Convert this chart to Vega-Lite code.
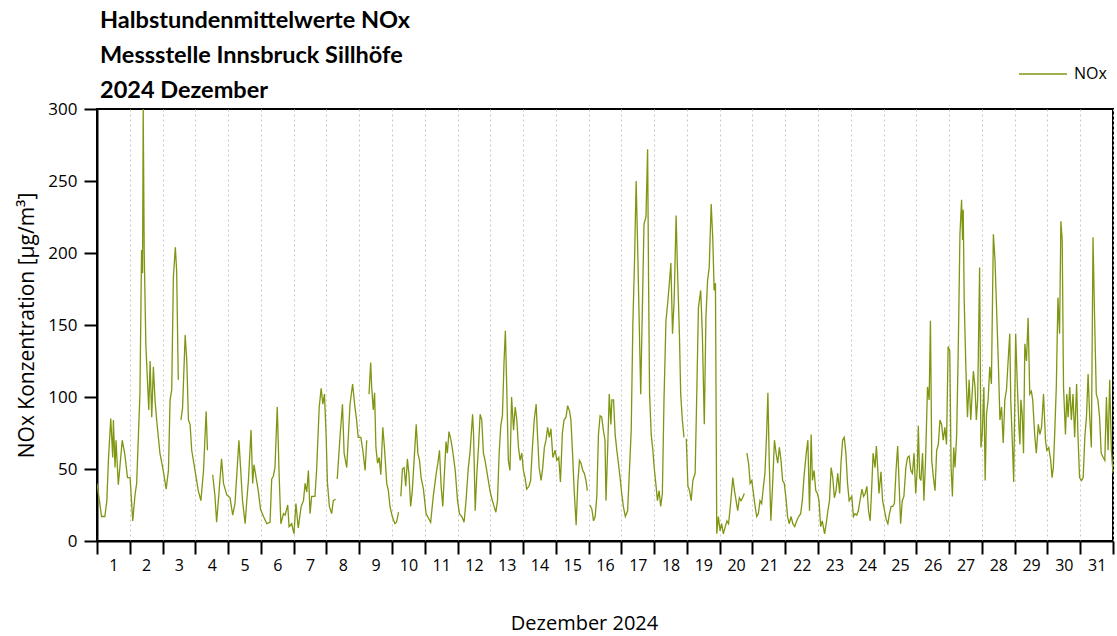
{
  "$schema": "https://vega.github.io/schema/vega-lite/v6.json",
  "autosize": "none",
  "width": 1016,
  "height": 432,
  "padding": {"left": 97, "top": 109, "right": 4, "bottom": 95},
  "background": "white",
  "title": {
    "text": ["Halbstundenmittelwerte NOx", "Messstelle Innsbruck Sillhöfe", "2024 Dezember"],
    "anchor": "start",
    "frame": "group",
    "font": "Lato",
    "fontSize": 23.5,
    "fontWeight": "bold",
    "color": "black",
    "lineHeight": 35,
    "offset": 10,
    "dx": 3,
    "dy": 63
  },
  "config": {
    "view": {"stroke": "black", "strokeWidth": 2},
    "axis": {
      "domainColor": "black",
      "domainWidth": 2,
      "tickColor": "black",
      "tickWidth": 2,
      "tickSize": 13,
      "labelColor": "black",
      "labelFont": "Open Sans",
      "titleFont": "Open Sans",
      "titleColor": "black",
      "titleFontWeight": "normal"
    }
  },
  "data": {
    "values": [
      {"Tag":1.00,"NOx":40},{"Tag":1.14,"NOx":17},{"Tag":1.24,"NOx":17},{"Tag":1.30,"NOx":28},{"Tag":1.35,"NOx":57},{"Tag":1.42,"NOx":85},{"Tag":1.48,"NOx":58},{"Tag":1.50,"NOx":84},{"Tag":1.55,"NOx":51},{"Tag":1.58,"NOx":70},{"Tag":1.65,"NOx":39},{"Tag":1.77,"NOx":70},{"Tag":1.85,"NOx":60},{"Tag":1.93,"NOx":44},
      {"Tag":2.01,"NOx":44},{"Tag":2.09,"NOx":14},{"Tag":2.16,"NOx":32},{"Tag":2.21,"NOx":40},{"Tag":2.31,"NOx":102},{"Tag":2.36,"NOx":202},{"Tag":2.39,"NOx":186},{"Tag":2.41,"NOx":300},{"Tag":2.44,"NOx":202},{"Tag":2.49,"NOx":137},{"Tag":2.52,"NOx":121},{"Tag":2.58,"NOx":91},{"Tag":2.62,"NOx":125},{"Tag":2.67,"NOx":86},{"Tag":2.72,"NOx":121},{"Tag":2.77,"NOx":98},{"Tag":2.82,"NOx":84},{"Tag":2.92,"NOx":61},
      {"Tag":3.02,"NOx":49},{"Tag":3.11,"NOx":36},{"Tag":3.18,"NOx":49},{"Tag":3.23,"NOx":98},{"Tag":3.28,"NOx":105},{"Tag":3.33,"NOx":183},{"Tag":3.39,"NOx":204},{"Tag":3.43,"NOx":188},{"Tag":3.48,"NOx":112},{"Tag":3.52,"NOx":null},{"Tag":3.56,"NOx":84},{"Tag":3.61,"NOx":92},{"Tag":3.69,"NOx":143},{"Tag":3.74,"NOx":125},{"Tag":3.79,"NOx":84},{"Tag":3.84,"NOx":81},{"Tag":3.89,"NOx":63},{"Tag":3.99,"NOx":49},
      {"Tag":4.09,"NOx":35},{"Tag":4.17,"NOx":28},{"Tag":4.25,"NOx":49},{"Tag":4.33,"NOx":90},{"Tag":4.37,"NOx":63},{"Tag":4.45,"NOx":null},{"Tag":4.53,"NOx":46},{"Tag":4.60,"NOx":31},{"Tag":4.65,"NOx":13},{"Tag":4.72,"NOx":33},{"Tag":4.80,"NOx":57},{"Tag":4.86,"NOx":40},{"Tag":4.96,"NOx":32},
      {"Tag":5.06,"NOx":30},{"Tag":5.14,"NOx":18},{"Tag":5.21,"NOx":26},{"Tag":5.26,"NOx":44},{"Tag":5.33,"NOx":70},{"Tag":5.38,"NOx":51},{"Tag":5.44,"NOx":28},{"Tag":5.52,"NOx":12},{"Tag":5.57,"NOx":28},{"Tag":5.62,"NOx":42},{"Tag":5.70,"NOx":77},{"Tag":5.75,"NOx":40},{"Tag":5.79,"NOx":53},{"Tag":5.87,"NOx":42},{"Tag":5.92,"NOx":35},{"Tag":5.99,"NOx":22},
      {"Tag":6.08,"NOx":17},{"Tag":6.18,"NOx":12},{"Tag":6.28,"NOx":13},{"Tag":6.33,"NOx":43},{"Tag":6.38,"NOx":45},{"Tag":6.43,"NOx":51},{"Tag":6.50,"NOx":93},{"Tag":6.56,"NOx":44},{"Tag":6.61,"NOx":12},{"Tag":6.69,"NOx":19},{"Tag":6.74,"NOx":18},{"Tag":6.82,"NOx":25},{"Tag":6.86,"NOx":10},{"Tag":6.94,"NOx":12},
      {"Tag":7.01,"NOx":5},{"Tag":7.07,"NOx":26},{"Tag":7.14,"NOx":9},{"Tag":7.23,"NOx":24},{"Tag":7.30,"NOx":28},{"Tag":7.35,"NOx":40},{"Tag":7.40,"NOx":34},{"Tag":7.45,"NOx":49},{"Tag":7.50,"NOx":19},{"Tag":7.55,"NOx":31},{"Tag":7.65,"NOx":31},{"Tag":7.70,"NOx":49},{"Tag":7.78,"NOx":93},{"Tag":7.84,"NOx":106},{"Tag":7.89,"NOx":95},{"Tag":7.94,"NOx":102},{"Tag":7.99,"NOx":74},
      {"Tag":8.03,"NOx":41},{"Tag":8.09,"NOx":24},{"Tag":8.16,"NOx":19},{"Tag":8.21,"NOx":28},{"Tag":8.28,"NOx":29},{"Tag":8.30,"NOx":null},{"Tag":8.33,"NOx":43},{"Tag":8.42,"NOx":74},{"Tag":8.49,"NOx":95},{"Tag":8.54,"NOx":61},{"Tag":8.62,"NOx":51},{"Tag":8.72,"NOx":95},{"Tag":8.80,"NOx":109},{"Tag":8.87,"NOx":93},{"Tag":8.92,"NOx":84},{"Tag":8.97,"NOx":72},
      {"Tag":9.05,"NOx":72},{"Tag":9.11,"NOx":63},{"Tag":9.18,"NOx":49},{"Tag":9.23,"NOx":70},{"Tag":9.26,"NOx":null},{"Tag":9.30,"NOx":102},{"Tag":9.35,"NOx":124},{"Tag":9.38,"NOx":107},{"Tag":9.43,"NOx":91},{"Tag":9.47,"NOx":103},{"Tag":9.51,"NOx":65},{"Tag":9.56,"NOx":54},{"Tag":9.61,"NOx":58},{"Tag":9.66,"NOx":46},{"Tag":9.72,"NOx":79},{"Tag":9.77,"NOx":65},{"Tag":9.84,"NOx":40},{"Tag":9.89,"NOx":35},{"Tag":9.94,"NOx":24},
      {"Tag":10.01,"NOx":17},{"Tag":10.09,"NOx":12},{"Tag":10.14,"NOx":13},{"Tag":10.20,"NOx":20},{"Tag":10.23,"NOx":null},{"Tag":10.27,"NOx":31},{"Tag":10.32,"NOx":50},{"Tag":10.37,"NOx":51},{"Tag":10.42,"NOx":38},{"Tag":10.47,"NOx":57},{"Tag":10.52,"NOx":46},{"Tag":10.57,"NOx":24},{"Tag":10.62,"NOx":35},{"Tag":10.67,"NOx":54},{"Tag":10.74,"NOx":81},{"Tag":10.79,"NOx":61},{"Tag":10.84,"NOx":56},{"Tag":10.89,"NOx":44},{"Tag":10.96,"NOx":36},
      {"Tag":11.04,"NOx":19},{"Tag":11.11,"NOx":16},{"Tag":11.18,"NOx":13},{"Tag":11.26,"NOx":31},{"Tag":11.35,"NOx":47},{"Tag":11.40,"NOx":54},{"Tag":11.45,"NOx":63},{"Tag":11.50,"NOx":38},{"Tag":11.55,"NOx":24},{"Tag":11.60,"NOx":47},{"Tag":11.65,"NOx":69},{"Tag":11.69,"NOx":61},{"Tag":11.74,"NOx":76},{"Tag":11.80,"NOx":70},{"Tag":11.85,"NOx":63},{"Tag":11.93,"NOx":49},
      {"Tag":12.00,"NOx":28},{"Tag":12.06,"NOx":19},{"Tag":12.13,"NOx":17},{"Tag":12.20,"NOx":13},{"Tag":12.26,"NOx":28},{"Tag":12.33,"NOx":51},{"Tag":12.38,"NOx":61},{"Tag":12.46,"NOx":88},{"Tag":12.49,"NOx":74},{"Tag":12.54,"NOx":21},{"Tag":12.59,"NOx":47},{"Tag":12.64,"NOx":65},{"Tag":12.69,"NOx":88},{"Tag":12.74,"NOx":84},{"Tag":12.79,"NOx":61},{"Tag":12.84,"NOx":56},{"Tag":12.89,"NOx":49},{"Tag":12.94,"NOx":42},{"Tag":12.99,"NOx":35},
      {"Tag":13.04,"NOx":30},{"Tag":13.09,"NOx":26},{"Tag":13.17,"NOx":20},{"Tag":13.22,"NOx":28},{"Tag":13.27,"NOx":61},{"Tag":13.32,"NOx":80},{"Tag":13.37,"NOx":87},{"Tag":13.42,"NOx":125},{"Tag":13.46,"NOx":146},{"Tag":13.50,"NOx":109},{"Tag":13.55,"NOx":56},{"Tag":13.60,"NOx":49},{"Tag":13.65,"NOx":100},{"Tag":13.71,"NOx":77},{"Tag":13.76,"NOx":93},{"Tag":13.81,"NOx":84},{"Tag":13.86,"NOx":65},{"Tag":13.91,"NOx":56},{"Tag":13.96,"NOx":61},
      {"Tag":14.01,"NOx":49},{"Tag":14.06,"NOx":44},{"Tag":14.11,"NOx":36},{"Tag":14.18,"NOx":38},{"Tag":14.23,"NOx":42},{"Tag":14.28,"NOx":63},{"Tag":14.34,"NOx":84},{"Tag":14.40,"NOx":95},{"Tag":14.44,"NOx":74},{"Tag":14.49,"NOx":51},{"Tag":14.55,"NOx":42},{"Tag":14.60,"NOx":51},{"Tag":14.65,"NOx":65},{"Tag":14.70,"NOx":70},{"Tag":14.75,"NOx":79},{"Tag":14.80,"NOx":72},{"Tag":14.85,"NOx":78},{"Tag":14.91,"NOx":58},{"Tag":14.98,"NOx":63},
      {"Tag":15.03,"NOx":56},{"Tag":15.09,"NOx":58},{"Tag":15.14,"NOx":41},{"Tag":15.20,"NOx":75},{"Tag":15.25,"NOx":84},{"Tag":15.31,"NOx":86},{"Tag":15.36,"NOx":94},{"Tag":15.42,"NOx":90},{"Tag":15.46,"NOx":84},{"Tag":15.51,"NOx":61},{"Tag":15.56,"NOx":35},{"Tag":15.62,"NOx":11},{"Tag":15.67,"NOx":40},{"Tag":15.72,"NOx":56},{"Tag":15.77,"NOx":54},{"Tag":15.82,"NOx":49},{"Tag":15.87,"NOx":47},{"Tag":15.92,"NOx":42},{"Tag":15.96,"NOx":35},{"Tag":16.00,"NOx":null},
      {"Tag":16.04,"NOx":25},{"Tag":16.10,"NOx":22},{"Tag":16.15,"NOx":14},{"Tag":16.20,"NOx":17},{"Tag":16.25,"NOx":31},{"Tag":16.30,"NOx":74},{"Tag":16.35,"NOx":87},{"Tag":16.40,"NOx":86},{"Tag":16.45,"NOx":77},{"Tag":16.50,"NOx":70},{"Tag":16.53,"NOx":28},{"Tag":16.58,"NOx":63},{"Tag":16.63,"NOx":102},{"Tag":16.68,"NOx":81},{"Tag":16.71,"NOx":98},{"Tag":16.76,"NOx":98},{"Tag":16.81,"NOx":74},{"Tag":16.86,"NOx":63},{"Tag":16.91,"NOx":54},{"Tag":16.96,"NOx":44},
      {"Tag":17.01,"NOx":33},{"Tag":17.06,"NOx":24},{"Tag":17.12,"NOx":17},{"Tag":17.19,"NOx":21},{"Tag":17.25,"NOx":51},{"Tag":17.30,"NOx":77},{"Tag":17.35,"NOx":151},{"Tag":17.40,"NOx":193},{"Tag":17.45,"NOx":250},{"Tag":17.49,"NOx":211},{"Tag":17.54,"NOx":156},{"Tag":17.59,"NOx":102},{"Tag":17.64,"NOx":162},{"Tag":17.69,"NOx":220},{"Tag":17.75,"NOx":225},{"Tag":17.80,"NOx":272},{"Tag":17.83,"NOx":179},{"Tag":17.86,"NOx":102},{"Tag":17.91,"NOx":74},{"Tag":17.96,"NOx":63},
      {"Tag":18.00,"NOx":51},{"Tag":18.05,"NOx":40},{"Tag":18.10,"NOx":28},{"Tag":18.15,"NOx":35},{"Tag":18.20,"NOx":24},{"Tag":18.25,"NOx":33},{"Tag":18.30,"NOx":98},{"Tag":18.36,"NOx":153},{"Tag":18.42,"NOx":167},{"Tag":18.47,"NOx":181},{"Tag":18.51,"NOx":193},{"Tag":18.56,"NOx":144},{"Tag":18.61,"NOx":167},{"Tag":18.67,"NOx":226},{"Tag":18.71,"NOx":190},{"Tag":18.77,"NOx":144},{"Tag":18.81,"NOx":102},{"Tag":18.86,"NOx":84},{"Tag":18.91,"NOx":72},{"Tag":18.94,"NOx":null},{"Tag":18.98,"NOx":71},
      {"Tag":19.03,"NOx":38},{"Tag":19.08,"NOx":35},{"Tag":19.13,"NOx":28},{"Tag":19.18,"NOx":42},{"Tag":19.25,"NOx":47},{"Tag":19.30,"NOx":102},{"Tag":19.35,"NOx":162},{"Tag":19.42,"NOx":174},{"Tag":19.47,"NOx":144},{"Tag":19.53,"NOx":81},{"Tag":19.58,"NOx":156},{"Tag":19.63,"NOx":181},{"Tag":19.68,"NOx":190},{"Tag":19.74,"NOx":234},{"Tag":19.79,"NOx":209},{"Tag":19.83,"NOx":174},{"Tag":19.87,"NOx":179},{"Tag":19.91,"NOx":5},{"Tag":19.96,"NOx":17},
      {"Tag":20.01,"NOx":7},{"Tag":20.06,"NOx":12},{"Tag":20.11,"NOx":5},{"Tag":20.17,"NOx":10},{"Tag":20.22,"NOx":14},{"Tag":20.27,"NOx":12},{"Tag":20.32,"NOx":23},{"Tag":20.40,"NOx":44},{"Tag":20.45,"NOx":35},{"Tag":20.50,"NOx":28},{"Tag":20.55,"NOx":21},{"Tag":20.60,"NOx":30},{"Tag":20.65,"NOx":28},{"Tag":20.70,"NOx":30},{"Tag":20.75,"NOx":33},{"Tag":20.79,"NOx":null},{"Tag":20.83,"NOx":61},{"Tag":20.88,"NOx":54},{"Tag":20.93,"NOx":40},{"Tag":20.98,"NOx":42},
      {"Tag":21.03,"NOx":33},{"Tag":21.08,"NOx":24},{"Tag":21.13,"NOx":17},{"Tag":21.18,"NOx":19},{"Tag":21.23,"NOx":28},{"Tag":21.28,"NOx":26},{"Tag":21.33,"NOx":37},{"Tag":21.38,"NOx":47},{"Tag":21.43,"NOx":74},{"Tag":21.47,"NOx":103},{"Tag":21.51,"NOx":56},{"Tag":21.56,"NOx":14},{"Tag":21.61,"NOx":37},{"Tag":21.67,"NOx":70},{"Tag":21.72,"NOx":61},{"Tag":21.77,"NOx":54},{"Tag":21.82,"NOx":65},{"Tag":21.87,"NOx":56},{"Tag":21.92,"NOx":42},{"Tag":21.97,"NOx":40},
      {"Tag":22.03,"NOx":28},{"Tag":22.07,"NOx":17},{"Tag":22.12,"NOx":12},{"Tag":22.18,"NOx":17},{"Tag":22.23,"NOx":12},{"Tag":22.29,"NOx":10},{"Tag":22.35,"NOx":14},{"Tag":22.41,"NOx":17},{"Tag":22.47,"NOx":19},{"Tag":22.52,"NOx":28},{"Tag":22.57,"NOx":44},{"Tag":22.64,"NOx":61},{"Tag":22.69,"NOx":70},{"Tag":22.74,"NOx":21},{"Tag":22.79,"NOx":74},{"Tag":22.83,"NOx":42},{"Tag":22.88,"NOx":49},{"Tag":22.93,"NOx":35},{"Tag":22.98,"NOx":33},
      {"Tag":23.03,"NOx":28},{"Tag":23.08,"NOx":10},{"Tag":23.13,"NOx":14},{"Tag":23.20,"NOx":5},{"Tag":23.25,"NOx":12},{"Tag":23.30,"NOx":21},{"Tag":23.35,"NOx":28},{"Tag":23.40,"NOx":51},{"Tag":23.45,"NOx":44},{"Tag":23.50,"NOx":30},{"Tag":23.55,"NOx":35},{"Tag":23.60,"NOx":47},{"Tag":23.66,"NOx":33},{"Tag":23.70,"NOx":54},{"Tag":23.75,"NOx":70},{"Tag":23.80,"NOx":72},{"Tag":23.85,"NOx":61},{"Tag":23.90,"NOx":40},{"Tag":23.95,"NOx":28},
      {"Tag":24.03,"NOx":31},{"Tag":24.08,"NOx":17},{"Tag":24.13,"NOx":19},{"Tag":24.18,"NOx":18},{"Tag":24.23,"NOx":21},{"Tag":24.28,"NOx":28},{"Tag":24.34,"NOx":36},{"Tag":24.39,"NOx":31},{"Tag":24.44,"NOx":33},{"Tag":24.49,"NOx":38},{"Tag":24.54,"NOx":21},{"Tag":24.59,"NOx":14},{"Tag":24.64,"NOx":38},{"Tag":24.68,"NOx":61},{"Tag":24.74,"NOx":51},{"Tag":24.78,"NOx":66},{"Tag":24.82,"NOx":51},{"Tag":24.86,"NOx":33},{"Tag":24.92,"NOx":48},{"Tag":24.97,"NOx":28},
      {"Tag":25.03,"NOx":21},{"Tag":25.08,"NOx":15},{"Tag":25.13,"NOx":12},{"Tag":25.18,"NOx":19},{"Tag":25.23,"NOx":24},{"Tag":25.28,"NOx":24},{"Tag":25.33,"NOx":26},{"Tag":25.38,"NOx":49},{"Tag":25.43,"NOx":66},{"Tag":25.47,"NOx":42},{"Tag":25.52,"NOx":12},{"Tag":25.57,"NOx":28},{"Tag":25.62,"NOx":31},{"Tag":25.68,"NOx":51},{"Tag":25.73,"NOx":58},{"Tag":25.78,"NOx":59},{"Tag":25.83,"NOx":49},{"Tag":25.88,"NOx":47},{"Tag":25.93,"NOx":61},{"Tag":25.98,"NOx":33},
      {"Tag":26.03,"NOx":51},{"Tag":26.06,"NOx":80},{"Tag":26.10,"NOx":44},{"Tag":26.14,"NOx":42},{"Tag":26.19,"NOx":61},{"Tag":26.23,"NOx":28},{"Tag":26.28,"NOx":56},{"Tag":26.34,"NOx":107},{"Tag":26.39,"NOx":98},{"Tag":26.43,"NOx":153},{"Tag":26.47,"NOx":56},{"Tag":26.52,"NOx":44},{"Tag":26.57,"NOx":35},{"Tag":26.62,"NOx":63},{"Tag":26.67,"NOx":67},{"Tag":26.72,"NOx":84},{"Tag":26.77,"NOx":81},{"Tag":26.82,"NOx":70},{"Tag":26.87,"NOx":79},{"Tag":26.92,"NOx":67},{"Tag":26.97,"NOx":135},
      {"Tag":27.02,"NOx":132},{"Tag":27.06,"NOx":51},{"Tag":27.10,"NOx":31},{"Tag":27.14,"NOx":65},{"Tag":27.18,"NOx":51},{"Tag":27.23,"NOx":74},{"Tag":27.28,"NOx":135},{"Tag":27.33,"NOx":213},{"Tag":27.38,"NOx":237},{"Tag":27.41,"NOx":209},{"Tag":27.43,"NOx":230},{"Tag":27.46,"NOx":167},{"Tag":27.51,"NOx":121},{"Tag":27.56,"NOx":86},{"Tag":27.61,"NOx":112},{"Tag":27.66,"NOx":84},{"Tag":27.74,"NOx":118},{"Tag":27.79,"NOx":107},{"Tag":27.83,"NOx":84},{"Tag":27.87,"NOx":98},{"Tag":27.93,"NOx":190},{"Tag":27.97,"NOx":65},
      {"Tag":28.01,"NOx":74},{"Tag":28.06,"NOx":107},{"Tag":28.10,"NOx":42},{"Tag":28.14,"NOx":88},{"Tag":28.19,"NOx":98},{"Tag":28.24,"NOx":121},{"Tag":28.29,"NOx":109},{"Tag":28.35,"NOx":213},{"Tag":28.40,"NOx":195},{"Tag":28.46,"NOx":153},{"Tag":28.50,"NOx":125},{"Tag":28.55,"NOx":84},{"Tag":28.60,"NOx":93},{"Tag":28.65,"NOx":68},{"Tag":28.70,"NOx":98},{"Tag":28.75,"NOx":105},{"Tag":28.80,"NOx":125},{"Tag":28.85,"NOx":144},{"Tag":28.88,"NOx":98},{"Tag":28.92,"NOx":74},{"Tag":28.97,"NOx":41},
      {"Tag":29.03,"NOx":144},{"Tag":29.08,"NOx":109},{"Tag":29.13,"NOx":79},{"Tag":29.16,"NOx":67},{"Tag":29.19,"NOx":98},{"Tag":29.23,"NOx":88},{"Tag":29.27,"NOx":61},{"Tag":29.31,"NOx":137},{"Tag":29.36,"NOx":125},{"Tag":29.41,"NOx":155},{"Tag":29.46,"NOx":102},{"Tag":29.51,"NOx":104},{"Tag":29.55,"NOx":98},{"Tag":29.61,"NOx":74},{"Tag":29.66,"NOx":61},{"Tag":29.72,"NOx":81},{"Tag":29.77,"NOx":74},{"Tag":29.82,"NOx":79},{"Tag":29.88,"NOx":102},{"Tag":29.94,"NOx":70},{"Tag":29.98,"NOx":63},
      {"Tag":30.04,"NOx":65},{"Tag":30.10,"NOx":56},{"Tag":30.14,"NOx":44},{"Tag":30.18,"NOx":51},{"Tag":30.22,"NOx":74},{"Tag":30.27,"NOx":107},{"Tag":30.32,"NOx":169},{"Tag":30.37,"NOx":144},{"Tag":30.41,"NOx":222},{"Tag":30.45,"NOx":209},{"Tag":30.49,"NOx":107},{"Tag":30.55,"NOx":74},{"Tag":30.59,"NOx":102},{"Tag":30.63,"NOx":86},{"Tag":30.68,"NOx":107},{"Tag":30.73,"NOx":84},{"Tag":30.78,"NOx":102},{"Tag":30.83,"NOx":72},{"Tag":30.89,"NOx":109},{"Tag":30.93,"NOx":74},{"Tag":30.98,"NOx":44},
      {"Tag":31.04,"NOx":42},{"Tag":31.09,"NOx":44},{"Tag":31.14,"NOx":72},{"Tag":31.19,"NOx":86},{"Tag":31.24,"NOx":116},{"Tag":31.29,"NOx":86},{"Tag":31.34,"NOx":65},{"Tag":31.39,"NOx":211},{"Tag":31.44,"NOx":153},{"Tag":31.49,"NOx":102},{"Tag":31.54,"NOx":98},{"Tag":31.59,"NOx":86},{"Tag":31.64,"NOx":61},{"Tag":31.70,"NOx":58},{"Tag":31.75,"NOx":56},{"Tag":31.80,"NOx":100},{"Tag":31.85,"NOx":63},{"Tag":31.90,"NOx":112},{"Tag":31.95,"NOx":63},{"Tag":32.00,"NOx":47}
    ]
  },
  "mark": {"type": "line", "strokeWidth": 1.3, "invalid": "break-paths-show-domains", "clip": true},
  "encoding": {
    "x": {
      "field": "Tag",
      "type": "quantitative",
      "scale": {"domain": [1, 32], "nice": false, "zero": false},
      "axis": {
        "values": [1,2,3,4,5,6,7,8,9,10,11,12,13,14,15,16,17,18,19,20,21,22,23,24,25,26,27,28,29,30,31,32],
        "labelExpr": "datum.value < 32 ? datum.label : ''",
        "format": "d",
        "labelOffset": 16.4,
        "labelFlush": false,
        "labelOverlap": false,
        "labelFontSize": 16,
        "labelPadding": 3,
        "grid": true,
        "gridColor": "#c8c8c8",
        "gridDash": [2, 3],
        "gridWidth": 1,
        "title": "Dezember 2024",
        "titleFontSize": 20,
        "titleX": 487,
        "titleY": 72,
        "titleBaseline": "top"
      }
    },
    "y": {
      "field": "NOx",
      "type": "quantitative",
      "scale": {"domain": [0, 300], "nice": false},
      "axis": {
        "values": [0, 50, 100, 150, 200, 250, 300],
        "grid": false,
        "labelFontSize": 17,
        "labelPadding": 7,
        "title": "NOx Konzentration [µg/m³]",
        "titleFontSize": 21,
        "titlePadding": 10
      }
    },
    "color": {
      "datum": "NOx",
      "type": "nominal",
      "scale": {"range": ["#7e9712"]},
      "legend": {
        "orient": "none",
        "legendX": 921,
        "legendY": -60,
        "title": null,
        "padding": 0,
        "symbolType": "stroke",
        "symbolSize": 2300,
        "symbolStrokeWidth": 1.5,
        "labelFont": "Open Sans",
        "labelFontSize": 16,
        "labelColor": "black",
        "labelOffset": 6
      }
    }
  }
}
